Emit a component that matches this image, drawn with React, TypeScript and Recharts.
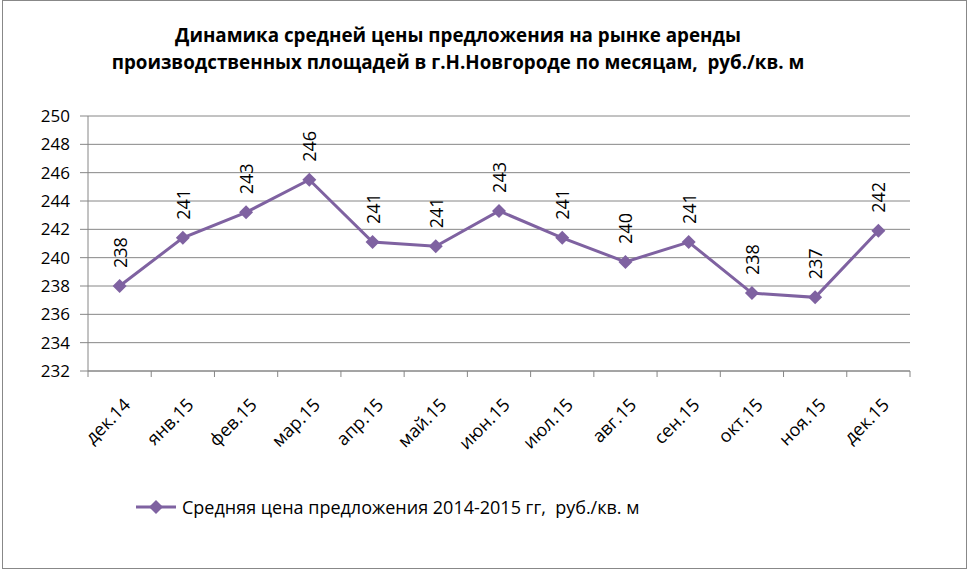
import { LineChart, Line, XAxis, YAxis, CartesianGrid } from 'recharts'

const months = ['дек.14', 'янв.15', 'фев.15', 'мар.15', 'апр.15', 'май.15', 'июн.15', 'июл.15', 'авг.15', 'сен.15', 'окт.15', 'ноя.15', 'дек.15']
const prices = [238.0, 241.4, 243.2, 245.5, 241.1, 240.8, 243.3, 241.4, 239.7, 241.1, 237.5, 237.2, 241.9]
const yTicks = [232, 234, 236, 238, 240, 242, 244, 246, 248, 250]
const seriesName = 'Средняя цена предложения 2014-2015 гг,  руб./кв. м'

const data = months.map((m, i) => ({ month: m, price: prices[i] }))

const PURPLE = '#7f62a1'
const GRID = '#868686'
const FONT = '"Open Sans", "Noto Sans", sans-serif'
const BAND = 822 / months.length

function MonthTick({ x, y, payload, index }: any) {
  const last = index === months.length - 1
  return (
    <g>
      <line x1={x - BAND / 2} y1={y - 8} x2={x - BAND / 2} y2={y - 2} stroke={GRID} />
      {last && <line x1={x + BAND / 2} y1={y - 8} x2={x + BAND / 2} y2={y - 2} stroke={GRID} />}
      <text x={x + 12} y={y + 27} textAnchor="end" fontSize={18} fill="#000" fontFamily={FONT}
        transform={`rotate(-45, ${x + 12}, ${y + 27})`}>
        {payload.value}
      </text>
    </g>
  )
}

function PriceLabel({ x, y, value }: any) {
  const tx = x + 7
  const ty = y - 18
  return (
    <text x={tx} y={ty} fontSize={18} fill="#000" fontFamily={FONT} transform={`rotate(-90, ${tx}, ${ty})`}>
      {Math.round(value)}
    </text>
  )
}

function Diamond({ cx, cy }: any) {
  const r = 7
  return <path d={`M${cx},${cy - r}L${cx + r},${cy}L${cx},${cy + r}L${cx - r},${cy}Z`} fill={PURPLE} />
}

export default function App() {
  return (
    <div style={{ position: 'absolute', left: 0, top: 0, width: 970, height: 573, background: '#fff' }}>
      <div style={{ position: 'absolute', left: 2, top: 0, width: 963, height: 567, border: '1px solid #888' }} />
      <div style={{
        position: 'absolute', left: 0, top: 22, width: 916, textAlign: 'center', fontFamily: FONT,
        fontWeight: 700, fontSize: 18.8, lineHeight: '27px', color: '#000', whiteSpace: 'pre'
      }}>
        {'Динамика средней цены предложения на рынке аренды\nпроизводственных площадей в г.Н.Новгороде по месяцам,  руб./кв. м'}
      </div>
      <div style={{ position: 'absolute', left: 0, top: 0 }}>
        <LineChart width={970} height={573} data={data} margin={{ top: 116, right: 60, left: 28, bottom: 122 }}>
          <CartesianGrid vertical={false} stroke={GRID} />
          <XAxis dataKey="month" tick={<MonthTick />} tickLine={false} axisLine={{ stroke: GRID }} interval={0}
            height={80} padding={{ left: BAND / 2, right: BAND / 2 }} />
          <YAxis domain={[232, 250]} ticks={yTicks} width={60} tick={{ fontSize: 17, fill: '#000', fontFamily: FONT }}
            axisLine={{ stroke: GRID }} tickLine={{ stroke: GRID }} tickSize={8} tickMargin={10} interval={0} />
          <Line dataKey="price" name={seriesName} stroke={PURPLE} strokeWidth={3} isAnimationActive={false}
            dot={<Diamond />} activeDot={false} label={<PriceLabel />} />
        </LineChart>
      </div>
      <div style={{
        position: 'absolute', left: 136, top: 495, display: 'flex', alignItems: 'center',
        fontFamily: FONT, fontSize: 18, color: '#000', whiteSpace: 'pre'
      }}>
        <svg width={42} height={18}>
          <line x1={0} y1={9} x2={40} y2={9} stroke={PURPLE} strokeWidth={3} />
          <path d="M20,2L27,9L20,16L13,9Z" fill={PURPLE} />
        </svg>
        <span style={{ marginLeft: 4 }}>{seriesName}</span>
      </div>
    </div>
  )
}
